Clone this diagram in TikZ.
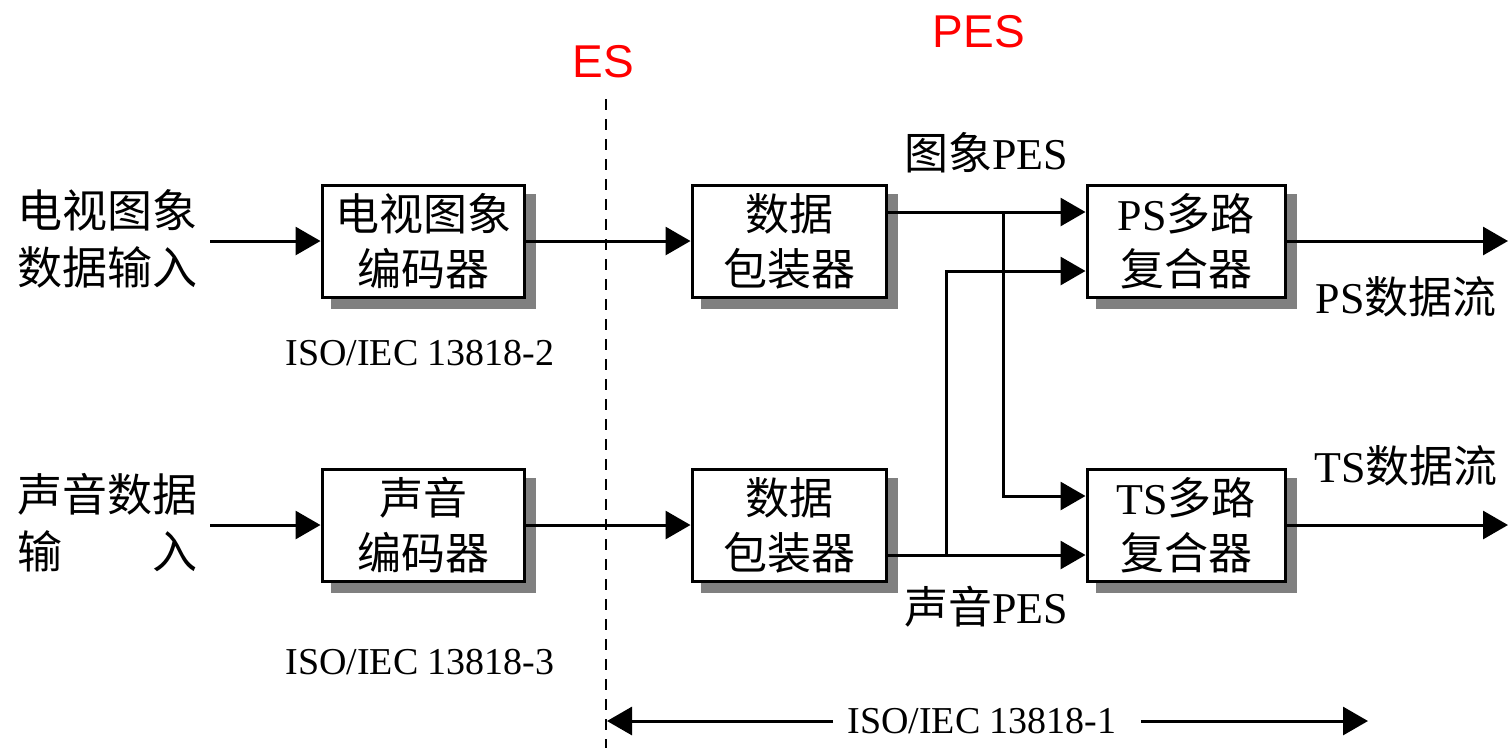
\documentclass[tikz,border=0pt]{standalone}
\usepackage{fontspec}
\setmainfont{Liberation Serif}
\newfontfamily\cjk{Noto Sans CJK SC}
\newfontfamily\lat{Liberation Serif}
\newfontfamily\arialf{Liberation Sans}
\usetikzlibrary{arrows.meta,shadows}
\begin{document}
\begin{tikzpicture}[x=1pt,y=-1pt,
  box/.style={draw,line width=3pt,fill=white,minimum height=112pt,inner sep=0pt,align=center,
    font=\cjk\fontsize{44}{55}\selectfont,
    copy shadow={shadow xshift=10pt,shadow yshift=-10pt,fill=gray,draw=gray}},
  arr/.style={line width=3pt,-{Triangle[length=25pt,width=28pt]}},
  lbl/.style={inner sep=0pt,align=center,font=\cjk\fontsize{45}{57}\selectfont},
  iso/.style={inner sep=0pt,font=\lat\fontsize{38}{40}\selectfont},
  redlbl/.style={inner sep=0pt,text=red,font=\arialf\fontsize{46}{48}\selectfont},
  dline/.style={line width=2.5pt,dash pattern=on 11pt off 9pt}]
\useasboundingbox (0,0) rectangle (1509,748);
% boxes
\node[box,minimum width=202pt] (enc1) at (423,241) {电视图象\\编码器};
\node[box,minimum width=202pt] (enc2) at (423,525) {声音\\编码器};
\node[box,minimum width=194pt] (pk1) at (789,241) {数据\\包装器};
\node[box,minimum width=194pt] (pk2) at (789,525) {数据\\包装器};
\node[box,minimum width=198pt] (ps) at (1186,241) {{\lat PS}多路\\复合器};
\node[box,minimum width=198pt] (ts) at (1186,525) {{\lat TS}多路\\复合器};
% labels
\node[lbl] (lin1) at (107,239) {电视图象\\数据输入};
\node[lbl] (lin2) at (107,523) {声音数据\\输　　入};
\node[iso] (iso2) at (420,353) {ISO/IEC 13818-2};
\node[iso] (iso3) at (420,662) {ISO/IEC 13818-3};
\node[iso] (iso1) at (982,721) {ISO/IEC 13818-1};
\node[lbl,font=\fontsize{44}{50}\selectfont] (vpes) at (986,153) {{\cjk 图象}{\lat PES}};
\node[lbl,font=\fontsize{44}{50}\selectfont] (apes) at (986,607) {{\cjk 声音}{\lat PES}};
\node[lbl,font=\fontsize{44}{50}\selectfont] (psstr) at (1406,297) {{\lat PS}{\cjk 数据流}};
\node[lbl,font=\fontsize{44}{50}\selectfont] (tsstr) at (1406,466) {{\lat TS}{\cjk 数据流}};
\node[redlbl] (es) at (603,62) {ES};
\node[redlbl] (pes) at (979,32) {PES};
% coordinates
\coordinate (in1) at (210,241);
\coordinate (in2) at (210,525);
\coordinate (psout) at (1508,241);
\coordinate (tsout) at (1508,525);
\coordinate (ja) at (1003,212);
\coordinate (jb) at (946,555);
\coordinate (ya) at (0,496);
\coordinate (yb) at (0,271);
\coordinate (dtop) at (606,99);
\coordinate (dbot) at (606,748);
\coordinate (bl) at (607,721);
\coordinate (br) at (1368,721);
% connectors
\draw[arr] (in1) -- (enc1.west);
\draw[arr] (in2) -- (enc2.west);
\draw[arr] (enc1.east) -- (pk1.west);
\draw[arr] (enc2.east) -- (pk2.west);
\draw[arr] (pk1.east |- ja) -- (ps.west |- ja);
\draw[arr] (ja) |- (ts.west |- ya);
\draw[arr] (pk2.east |- jb) -- (ts.west |- jb);
\draw[arr] (jb) |- (ps.west |- yb);
\draw[arr] (ps.east) -- (psout);
\draw[arr] (ts.east) -- (tsout);
\draw[dline] (dtop) -- (dbot);
\draw[arr,shorten <=14pt] (iso1.west) -- (bl);
\draw[arr,shorten <=24pt] (iso1.east) -- (br);
\end{tikzpicture}
\end{document}
